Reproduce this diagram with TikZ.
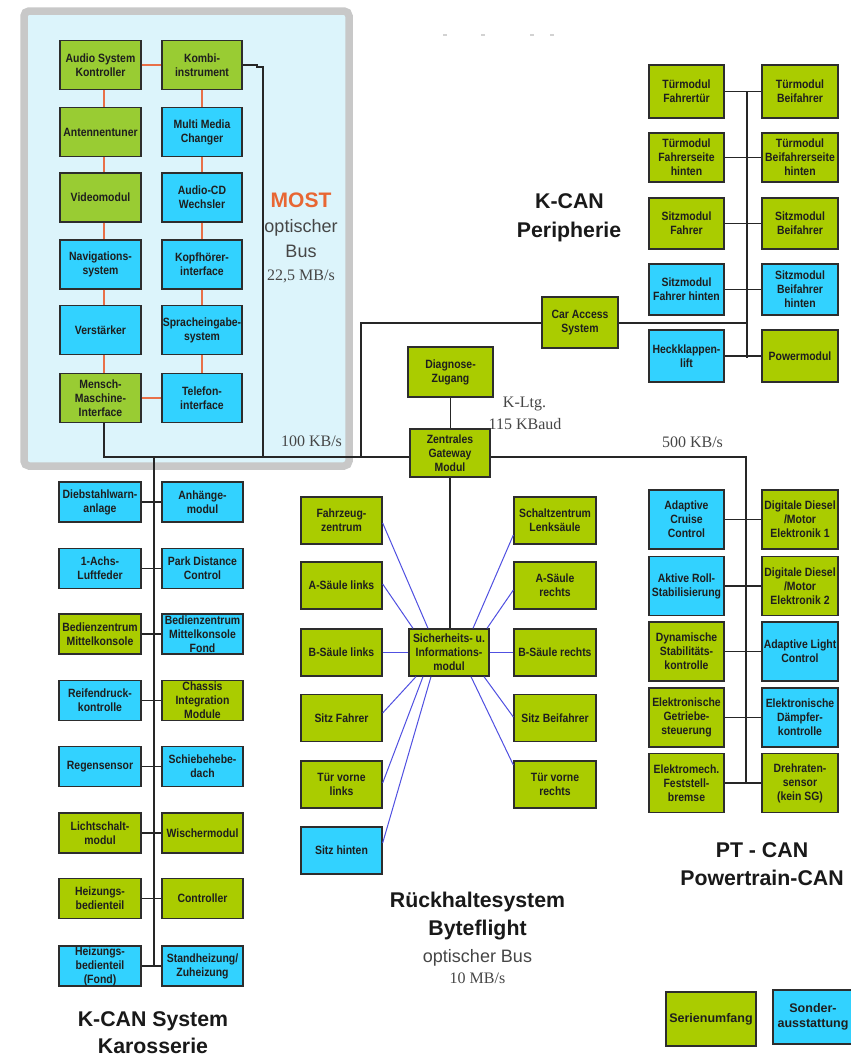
\documentclass[tikz,border=0pt]{standalone}
\usepackage{fontspec}
\setmainfont{Liberation Sans}
\newfontfamily\boxfont[FakeStretch=0.87]{Liberation Sans}
\newfontfamily\serifrm{Liberation Serif}
\usetikzlibrary{calc}
\definecolor{kgreen}{RGB}{170,204,0}
\definecolor{mgreen}{RGB}{153,204,51}
\definecolor{kblue}{RGB}{50,210,255}
\definecolor{boxline}{RGB}{45,45,45}
\definecolor{boxtext}{RGB}{30,30,30}
\definecolor{panelblue}{RGB}{220,244,251}
\definecolor{panelgray}{RGB}{200,200,200}
\definecolor{orangeline}{RGB}{232,112,72}
\definecolor{blueline}{RGB}{80,80,225}
\definecolor{mostorange}{RGB}{232,102,51}
\definecolor{labelgray}{RGB}{70,70,70}
\definecolor{titlecol}{RGB}{25,25,25}
\tikzset{
  box/.style={draw=boxline, line width=1.3pt, inner sep=0pt, align=center, text=boxtext,
    font=\boxfont\bfseries\fontsize{12}{14}\selectfont},
  gb/.style={box, fill=kgreen},
  mg/.style={box, fill=mgreen},
  bl/.style={box, fill=kblue},
  bus/.style={draw=black!85, line width=1.2pt},
  ring/.style={draw=orangeline, line width=1.8pt},
  spoke/.style={draw=blueline, line width=1pt},
  title/.style={font=\bfseries\fontsize{21.3}{25}\selectfont, text=titlecol, inner sep=0pt, anchor=base},
  sublabel/.style={font=\fontsize{18}{21}\selectfont, text=labelgray, inner sep=0pt, anchor=base},
  rate/.style={font=\serifrm\fontsize{16}{19}\selectfont, text=labelgray, inner sep=0pt, anchor=base},
  mostsz/.style={minimum height=49pt},
  kpsz/.style={minimum height=51pt},
  midsz/.style={minimum height=47pt},
  kcsz/.style={minimum height=40pt},
  ptsz/.style={minimum height=59pt},
  legend/.style={font=\bfseries\fontsize{12.5}{15}\selectfont}
}
\begin{document}
\begin{tikzpicture}[x=1pt,y=-1pt]
\useasboundingbox (0,0) rectangle (851,1058);
\fill[white] (0,0) rectangle (851,1058);

% tiny marks at top
\foreach \mx in {445,483,532,552}{\draw[gray!35, line width=1.2pt] (\mx-2,35) -- (\mx+2,35);}

% MOST panel
\draw[draw=panelgray, line width=7.5pt, fill=panelblue, rounded corners=5pt] (24,11) rectangle (349,466);

% ---------- MOST boxes ----------
\node[mg, mostsz, minimum width=81pt] (asc) at (100.5,65) {Audio System\\Kontroller};
\node[mg, mostsz, minimum width=81pt] (ant) at (100.5,132) {Antennentuner};
\node[mg, mostsz, minimum width=81pt] (video) at (100.5,197.5) {Videomodul};
\node[bl, mostsz, minimum width=81pt] (navi) at (100.5,264.5) {Navigations-\\system};
\node[bl, mostsz, minimum width=81pt] (verst) at (100.5,330) {Verstärker};
\node[mg, mostsz, minimum width=81pt] (mmi) at (100.5,398) {Mensch-\\Maschine-\\Interface};
\node[mg, mostsz, minimum width=80pt] (kombi) at (202,65) {Kombi-\\instrument};
\node[bl, mostsz, minimum width=80pt] (mmc) at (202,132) {Multi Media\\Changer};
\node[bl, mostsz, minimum width=80pt] (cd) at (202,197.5) {Audio-CD\\Wechsler};
\node[bl, mostsz, minimum width=80pt] (kopf) at (202,264.5) {Kopfhörer-\\interface};
\node[bl, mostsz, minimum width=80pt] (sprach) at (202,330) {Spracheingabe-\\system};
\node[bl, mostsz, minimum width=80pt] (tel) at (202,398) {Telefon-\\interface};

% MOST ring
\draw[ring] (asc.east) -- (kombi.west);
\draw[ring] ([xshift=3.5pt]asc.south) -- ([xshift=3.5pt]ant.north);
\draw[ring] ([xshift=3.5pt]ant.south) -- ([xshift=3.5pt]video.north);
\draw[ring] ([xshift=3.5pt]video.south) -- ([xshift=3.5pt]navi.north);
\draw[ring] ([xshift=3.5pt]navi.south) -- ([xshift=3.5pt]verst.north);
\draw[ring] ([xshift=3.5pt]verst.south) -- ([xshift=3.5pt]mmi.north);
\draw[ring] (kombi.south) -- (mmc.north);
\draw[ring] (mmc.south) -- (cd.north);
\draw[ring] (cd.south) -- (kopf.north);
\draw[ring] (kopf.south) -- (sprach.north);
\draw[ring] (sprach.south) -- (tel.north);
\draw[ring] (mmi.east) -- (tel.west);

% MOST labels
\node[font=\bfseries\fontsize{21}{25}\selectfont, text=mostorange, inner sep=0pt, anchor=base] (mostl) at (301,207) {MOST};
\node[sublabel] (most2) at (301,232) {optischer};
\node[sublabel] (most3) at (301,257) {Bus};
\node[rate] (most4) at (301,280) {22,5 MB/s};
\node[rate] (r100) at (311.5,446) {100 KB/s};

% ---------- Gateway / Diagnose ----------
\node[gb, minimum width=85pt, minimum height=50pt] (dz) at (450.5,372) {Diagnose-\\Zugang};
\node[gb, minimum width=80pt, minimum height=48pt] (gw) at (450,453) {Zentrales\\Gateway\\Modul};
\node[rate] (kltg) at (524.5,407) {K-Ltg.};
\node[rate] (kbaud) at (525,429) {115 KBaud};
\node[rate] (r500) at (692.5,447) {500 KB/s};

% ---------- K-CAN Peripherie ----------
\node[gb, minimum width=75pt, minimum height=53pt] (tmf) at (686.5,91.5) {Türmodul\\Fahrertür};
\node[gb, minimum width=75pt, minimum height=49pt] (tmfh) at (686.5,157.5) {Türmodul\\Fahrerseite\\hinten};
\node[gb, kpsz, minimum width=75pt] (smf) at (686.5,223.5) {Sitzmodul\\Fahrer};
\node[bl, kpsz, minimum width=75pt] (smfh) at (686.5,289.5) {Sitzmodul\\Fahrer hinten};
\node[bl, minimum width=75pt, minimum height=52pt] (hkl) at (686.5,356) {Heckklappen-\\lift};
\node[gb, minimum width=76pt, minimum height=53pt] (tmb) at (800,91.5) {Türmodul\\Beifahrer};
\node[gb, minimum width=76pt, minimum height=49pt] (tmbh) at (800,157.5) {Türmodul\\Beifahrerseite\\hinten};
\node[gb, kpsz, minimum width=76pt] (smb) at (800,223.5) {Sitzmodul\\Beifahrer};
\node[bl, kpsz, minimum width=76pt] (smbh) at (800,289.5) {Sitzmodul\\Beifahrer\\hinten};
\node[gb, minimum width=76pt, minimum height=52pt] (pm) at (800,356) {Powermodul};
\node[gb, minimum width=76pt, minimum height=51pt] (cas) at (580,322.5) {Car Access\\System};

\node[title] (kp1) at (569.5,208) {K-CAN};
\node[title] (kp2) at (569,237) {Peripherie};

% ---------- Rückhaltesystem ----------
\node[gb, midsz, minimum width=81pt] (fz) at (341.5,520.5) {Fahrzeug-\\zentrum};
\node[gb, midsz, minimum width=81pt] (asl) at (341.5,585.5) {A-Säule links};
\node[gb, midsz, minimum width=81pt] (bsl) at (341.5,652.5) {B-Säule links};
\node[gb, midsz, minimum width=81pt] (sf) at (341.5,718) {Sitz Fahrer};
\node[gb, midsz, minimum width=81pt] (tvl) at (341.5,784.5) {Tür vorne\\links};
\node[bl, midsz, minimum width=81pt] (sh) at (341.5,850.5) {Sitz hinten};
\node[gb, midsz, minimum width=82pt] (szl) at (555,520.5) {Schaltzentrum\\Lenksäule};
\node[gb, midsz, minimum width=82pt] (asr) at (555,585.5) {A-Säule\\rechts};
\node[gb, midsz, minimum width=82pt] (bsr) at (555,652.5) {B-Säule rechts};
\node[gb, midsz, minimum width=82pt] (sb) at (555,718) {Sitz Beifahrer};
\node[gb, midsz, minimum width=82pt] (tvr) at (555,784.5) {Tür vorne\\rechts};
\node[gb, midsz, minimum width=80pt] (sim) at (449,652.5) {Sicherheits- u.\\Informations-\\modul};

\draw[spoke] ([yshift=-2.5pt]fz.east) -- ([xshift=-21pt]sim.north);
\draw[spoke] ([yshift=1.5pt]asl.east) -- ([xshift=-36pt]sim.north);
\draw[spoke] (bsl.east) -- (sim.west);
\draw[spoke] ([yshift=5pt]sf.east) -- ([xshift=-33pt]sim.south);
\draw[spoke] ([yshift=1.5pt]tvl.east) -- ([xshift=-26pt]sim.south);
\draw[spoke] ([yshift=7.5pt]sh.east) -- ([xshift=-18pt]sim.south);
\draw[spoke] ([yshift=-14.5pt]szl.west) -- ([xshift=24pt]sim.north);
\draw[spoke] ([yshift=-4.5pt]asr.west) -- ([xshift=38pt]sim.north);
\draw[spoke] (bsr.west) -- (sim.east);
\draw[spoke] ([yshift=1pt]sb.west) -- ([xshift=35pt]sim.south);
\draw[spoke] ([yshift=19.5pt]tvr.west) -- ([xshift=22pt]sim.south);

\node[title] (rh1) at (477.5,907) {Rückhaltesystem};
\node[title] (rh2) at (477.5,935) {Byteflight};
\node[sublabel] (rh3) at (477.5,962) {optischer Bus};
\node[rate] (rh4) at (477.5,983) {10 MB/s};

% ---------- K-CAN System Karosserie ----------
\node[bl, kcsz, minimum width=82pt] (dwa) at (100,502) {Diebstahlwarn-\\anlage};
\node[bl, kcsz, minimum width=82pt] (alf) at (100,568.5) {1-Achs-\\Luftfeder};
\node[gb, kcsz, minimum width=82pt] (bzm) at (100,634) {Bedienzentrum\\Mittelkonsole};
\node[bl, kcsz, minimum width=82pt] (rdk) at (100,700.5) {Reifendruck-\\kontrolle};
\node[bl, kcsz, minimum width=82pt] (rs) at (100,766.5) {Regensensor};
\node[gb, kcsz, minimum width=82pt] (ls) at (100,833) {Lichtschalt-\\modul};
\node[gb, kcsz, minimum width=82pt] (hb) at (100,898.5) {Heizungs-\\bedienteil};
\node[bl, kcsz, minimum width=82pt] (hbf) at (100,966) {Heizungs-\\bedienteil\\(Fond)};
\node[bl, kcsz, minimum width=81pt] (ahm) at (202.5,502) {Anhänge-\\modul};
\node[bl, kcsz, minimum width=81pt] (pdc) at (202.5,568.5) {Park Distance\\Control};
\node[bl, kcsz, minimum width=81pt] (bzf) at (202.5,634) {Bedienzentrum\\Mittelkonsole\\Fond};
\node[gb, kcsz, minimum width=81pt] (cim) at (202.5,700.5) {Chassis\\Integration\\Module};
\node[bl, kcsz, minimum width=81pt] (sbd) at (202.5,766.5) {Schiebehebe-\\dach};
\node[gb, kcsz, minimum width=81pt] (wm) at (202.5,833) {Wischermodul};
\node[gb, kcsz, minimum width=81pt] (ctl) at (202.5,898.5) {Controller};
\node[bl, kcsz, minimum width=81pt] (sth) at (202.5,966) {Standheizung/\\Zuheizung};

\node[title] (ks1) at (153,1026) {K-CAN System};
\node[title] (ks2) at (153,1053) {Karosserie};

% ---------- PT-CAN ----------
\node[bl, ptsz, minimum width=75pt] (acc) at (686.5,519.5) {Adaptive\\Cruise\\Control};
\node[bl, ptsz, minimum width=75pt] (ars) at (686.5,586) {Aktive Roll-\\Stabilisierung};
\node[gb, ptsz, minimum width=75pt] (dsc) at (686.5,651.5) {Dynamische\\Stabilitäts-\\kontrolle};
\node[gb, ptsz, minimum width=75pt] (egs) at (686.5,717.5) {Elektronische\\Getriebe-\\steuerung};
\node[gb, ptsz, minimum width=75pt] (efb) at (686.5,783) {Elektromech.\\Feststell-\\bremse};
\node[gb, ptsz, minimum width=76pt] (dde1) at (800,519.5) {Digitale Diesel\\/Motor\\Elektronik 1};
\node[gb, ptsz, minimum width=76pt] (dde2) at (800,586) {Digitale Diesel\\/Motor\\Elektronik 2};
\node[bl, ptsz, minimum width=76pt] (alc) at (800,651.5) {Adaptive Light\\Control};
\node[bl, ptsz, minimum width=76pt] (edc) at (800,717.5) {Elektronische\\Dämpfer-\\kontrolle};
\node[gb, ptsz, minimum width=76pt] (drs) at (800,783) {Drehraten-\\sensor\\(kein SG)};

\node[title] (pt1) at (762,857) {PT - CAN};
\node[title] (pt2) at (762,885) {Powertrain-CAN};

% ---------- Legend ----------
\node[box, fill=kgreen, minimum width=90pt, minimum height=54pt, legend] (ser) at (711,1019) {Serienumfang};
\node[box, fill=kblue, minimum width=80pt, minimum height=54pt, legend] (sond) at (813,1017) {Sonder-\\ausstattung};

% ---------- Bus coordinates ----------
\coordinate (busL) at (104,457);
\coordinate (busR) at (746,457);
\coordinate (casJ) at (361,457);
\coordinate (casT) at (361,323);
\coordinate (kcTop) at (154,457);
\coordinate (kcBot) at (154,966);
\coordinate (ptBot) at (746,783);
\coordinate (kpTop) at (747,91.5);
\coordinate (kpBot) at (747,358);
\coordinate (kombiA) at (257,65);
\coordinate (kombiB) at (257,67);
\coordinate (kombiC) at (263,67);
\coordinate (kombiJ) at (263,457);

% main K-CAN bus
\draw[bus] ([xshift=3.5pt]mmi.south) -- (busL) -- (gw.west |- busL);
\draw[bus] (kombi.east) -- (kombiA) -- (kombiB) -- (kombiC) -- (kombiJ);
\draw[bus] (casJ) -- (casT) -- (cas.west |- casT);
\draw[bus] (cas.east |- casT) -- (kpBot |- casT);
\draw[bus] (kcTop) -- (kcBot);
% PT-CAN bus
\draw[bus] (gw.east |- busR) -- (busR) -- (ptBot);
% gateway links
\draw[bus] (dz.south) -- (dz.south |- gw.north);
\draw[bus] (gw.south) -- (gw.south |- sim.north);
% K-CAN Peripherie
\draw[bus] (kpTop) -- (kpBot);
\draw[bus] (tmf.east) -- (tmb.west);
\draw[bus] (tmfh.east) -- (tmbh.west);
\draw[bus] (smf.east) -- (smb.west);
\draw[bus] (smfh.east) -- (smbh.west);
\draw[bus] (hkl.east) -- (pm.west);
% K-CAN System rows
\draw[bus] (dwa.east) -- (ahm.west);
\draw[bus] (alf.east) -- (pdc.west);
\draw[bus] (bzm.east) -- (bzf.west);
\draw[bus] (rdk.east) -- (cim.west);
\draw[bus] (rs.east) -- (sbd.west);
\draw[bus] (ls.east) -- (wm.west);
\draw[bus] (hb.east) -- (ctl.west);
\draw[bus] (hbf.east) -- (sth.west);
% PT-CAN rows
\draw[bus] (acc.east) -- (dde1.west);
\draw[bus] (ars.east) -- (dde2.west);
\draw[bus] (dsc.east) -- (alc.west);
\draw[bus] (egs.east) -- (edc.west);
\draw[bus] (efb.east) -- (drs.west);
\end{tikzpicture}
\end{document}
